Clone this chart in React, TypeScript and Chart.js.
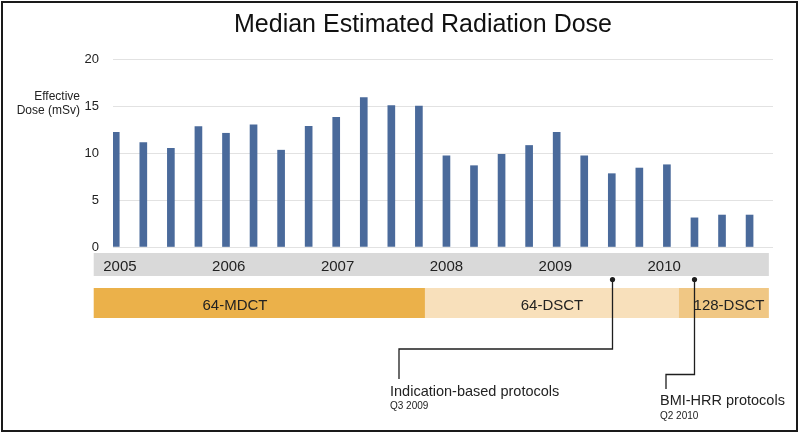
import React, { useEffect, useRef } from "react";
import { Chart, registerables } from "chart.js";

Chart.register(...registerables);

// ---- Data ----
const quarters = [
  "2005 Q1", "2005 Q2", "2005 Q3", "2005 Q4",
  "2006 Q1", "2006 Q2", "2006 Q3", "2006 Q4",
  "2007 Q1", "2007 Q2", "2007 Q3", "2007 Q4",
  "2008 Q1", "2008 Q2", "2008 Q3", "2008 Q4",
  "2009 Q1", "2009 Q2", "2009 Q3", "2009 Q4",
  "2010 Q1", "2010 Q2", "2010 Q3", "2010 Q4",
];
const doses = [
  12.2, 11.1, 10.5, 12.8,
  12.1, 13.0, 10.3, 12.85,
  13.8, 15.9, 15.05, 15.0,
  9.7, 8.65, 9.85, 10.8,
  12.2, 9.7, 7.8, 8.4,
  8.75, 3.1, 3.4, 3.4,
];
const yearLabels = ["2005", "2006", "2007", "2008", "2009", "2010"];
const yTickValues = [0, 5, 10, 15, 20];
const eraNames = ["64-MDCT", "64-DSCT", "128-DSCT"];
const eraStarts = [-0.8, 11.22, 20.43];
const eraEnds = [11.22, 20.43, 23.7];
const annotationTitles = ["Indication-based protocols", "BMI-HRR protocols"];
const annotationDates = ["Q3 2009", "Q2 2010"];
const annotationQuarters = ["2009 Q3", "2010 Q2"];

const TITLE = "Median Estimated Radiation Dose";
const Y_TITLE = ["Effective", "Dose (mSv)"];

const FONT = "'Liberation Sans', Arial, Helvetica, sans-serif";
const BAR_COLOR = "#4A6A9B";
const ERA_COLORS = ["#EBB14A", "#F8E0BB", "#F0C784"];
const BAND_COLOR = "#D9D9D9";
const INK = "#1E1E1E";

const overlayPlugin = {
  id: "overlay",
  beforeDraw(chart: any) {
    const { ctx, width, height } = chart;
    ctx.save();
    ctx.fillStyle = "#ffffff";
    ctx.fillRect(0, 0, width, height);
    ctx.restore();
  },
  afterDraw(chart: any) {
    const { ctx } = chart;
    const xs = chart.scales.x;
    const px = (v: number) => xs.getPixelForValue(v);
    ctx.save();

    // Title
    ctx.fillStyle = "#111";
    ctx.font = `25px ${FONT}`;
    ctx.textAlign = "center";
    ctx.textBaseline = "alphabetic";
    ctx.fillText(TITLE, 423, 32);

    // Y axis title
    ctx.font = `12px ${FONT}`;
    ctx.textAlign = "right";
    ctx.textBaseline = "middle";
    ctx.fillStyle = "#222";
    ctx.fillText(Y_TITLE[0], 80, 97);
    ctx.fillText(Y_TITLE[1], 80, 111);

    // Year band
    const bandL = px(eraStarts[0]);
    const bandR = px(eraEnds[eraEnds.length - 1]);
    ctx.fillStyle = BAND_COLOR;
    ctx.fillRect(bandL, 253, bandR - bandL, 23);
    ctx.fillStyle = "#222";
    ctx.font = `15px ${FONT}`;
    ctx.textAlign = "center";
    ctx.textBaseline = "alphabetic";
    yearLabels.forEach((y, k) => {
      ctx.fillText(y, px(k * 3.95 + 0.15), 271);
    });

    // Scanner eras
    eraNames.forEach((name, i) => {
      const l = px(eraStarts[i]);
      const r = px(eraEnds[i]);
      ctx.fillStyle = ERA_COLORS[i];
      ctx.fillRect(l, 288, r - l, 30);
    });
    ctx.fillStyle = "#222";
    ctx.font = `15px ${FONT}`;
    ctx.textAlign = "center";
    const eraLabelCenters = [235, 552, 729];
    eraNames.forEach((name, i) => {
      ctx.fillText(name, eraLabelCenters[i], 309.5);
    });

    // Annotations
    const elbows = [
      { turnY: 349, endX: 399, endY: 379, textX: 390, textY: 395.5, dateY: 408.5 },
      { turnY: 374.5, endX: 666, endY: 389, textX: 660, textY: 405, dateY: 418.5 },
    ];
    annotationTitles.forEach((t, i) => {
      const idx = quarters.indexOf(annotationQuarters[i]);
      const x = Math.round(px(idx)) + 0.5;
      const e = elbows[i];
      ctx.strokeStyle = INK;
      ctx.lineWidth = 1.3;
      ctx.beginPath();
      ctx.moveTo(x, 279.5);
      ctx.lineTo(x, e.turnY);
      ctx.lineTo(e.endX, e.turnY);
      ctx.lineTo(e.endX, e.endY);
      ctx.stroke();
      ctx.fillStyle = INK;
      ctx.beginPath();
      ctx.arc(x, 279.5, 2.6, 0, Math.PI * 2);
      ctx.fill();
      ctx.fillStyle = "#222";
      ctx.textAlign = "left";
      ctx.font = `14.5px ${FONT}`;
      ctx.fillText(t, e.textX, e.textY);
      ctx.font = `10px ${FONT}`;
      ctx.fillText(annotationDates[i], e.textX, e.dateY);
    });

    // Frame
    ctx.strokeStyle = "#1a1a1a";
    ctx.lineWidth = 2;
    ctx.strokeRect(2, 2, 795, 429);
    ctx.restore();
  },
};

export default function App() {
  const ref = useRef<HTMLCanvasElement | null>(null);
  useEffect(() => {
    if (!ref.current) return;
    const chart = new Chart(ref.current, {
      type: "bar",
      data: {
        labels: quarters,
        datasets: [
          {
            label: "Median effective dose",
            data: doses.map((d, i) => ({ x: i, y: d })) as any,
            backgroundColor: BAR_COLOR,
            borderWidth: 0,
            barThickness: 7,
          },
        ],
      },
      options: {
        responsive: false,
        animation: false,
        devicePixelRatio: 1,
        layout: { padding: { left: 0, right: 27, top: 59, bottom: 186 } },
        plugins: {
          legend: { display: false },
          title: { display: false },
          tooltip: { enabled: false },
        },
        scales: {
          x: {
            type: "linear",
            min: -0.1,
            max: 23.85,
            offset: false,
            bounds: "ticks",
            display: false,
            grid: { display: false, offset: false },
            afterDataLimits: (scale: any) => {
              scale.min = -0.1;
              scale.max = 23.85;
            },
          },
          y: {
            min: 0,
            max: 20,
            afterFit: (scale: any) => {
              scale.width = 113;
            },
            afterBuildTicks: (scale: any) => {
              scale.ticks = yTickValues.map((v) => ({ value: v }));
            },
            border: { display: false },
            grid: { color: "#E2E2E2", lineWidth: 1, drawTicks: false },
            ticks: {
              padding: 14,
              color: "#222",
              font: { family: FONT, size: 13 },
            },
          },
        },
      },
      plugins: [overlayPlugin],
    });
    return () => chart.destroy();
  }, []);
  return (
    <div style={{ position: "fixed", left: 0, top: 0, width: 800, height: 433, background: "#fff" }}>
      <canvas ref={ref} width={800} height={433} style={{ display: "block", width: 800, height: 433 }} />
    </div>
  );
}
